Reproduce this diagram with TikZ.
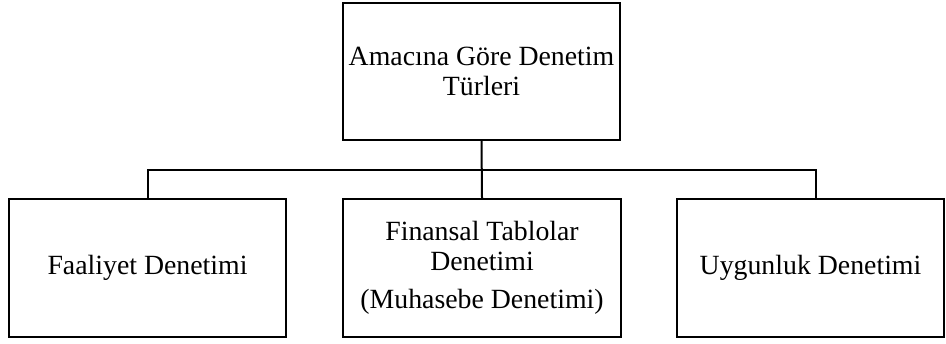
\documentclass[tikz,border=0pt]{standalone}
\usepackage{fontspec}
\setmainfont{Liberation Serif}
\begin{document}
\begin{tikzpicture}[x=0.5pt,y=-0.5pt,
  box/.style={draw, line width=1.1pt, inner sep=0pt, align=center,
    font=\fontsize{13.9}{15}\selectfont},
  conn/.style={line width=1pt}]
\useasboundingbox (0,0) rectangle (946,343);
\node[box, minimum width=138.5pt, minimum height=68.5pt] (top) at (481.5,71.5) {Amacına Göre Denetim\\Türleri};
\node[box, minimum width=138.5pt, minimum height=69pt] (left) at (147.5,268) {Faaliyet Denetimi};
\node[box, minimum width=139pt, minimum height=69pt] (mid) at (482,268) {Finansal Tablolar\\Denetimi\\[4pt](Muhasebe Denetimi)};
\node[box, minimum width=133.5pt, minimum height=69pt] (right) at (810.5,268) {Uygunluk Denetimi};
\coordinate (rj) at (816,170);
\draw[conn] (top.south) -- (mid.north);
\draw[conn] (left.north) |- (rj) -- (rj |- right.north);
\end{tikzpicture}
\end{document}
